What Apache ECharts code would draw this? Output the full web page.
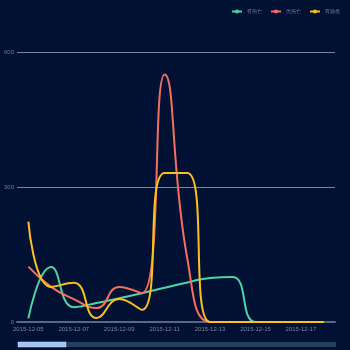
<!DOCTYPE html>
<html>
<head>
<meta charset="utf-8">
<style>
  html, body { margin: 0; padding: 0; background: #011134; }
  #chart { width: 350px; height: 350px; }
</style>
<script src="https://cdn.jsdelivr.net/npm/echarts@6/dist/echarts.min.js"></script>
</head>
<body>
<div id="chart"></div>
<script>
// Daily categories
const dates = [
  '2015-12-05', '2015-12-06', '2015-12-07', '2015-12-08', '2015-12-09',
  '2015-12-10', '2015-12-11', '2015-12-12', '2015-12-13', '2015-12-14',
  '2015-12-15', '2015-12-16', '2015-12-17', '2015-12-18'
];
// Series values
const withCasualties = [8, 122, 33, 42, 53, 64, 76, 88, 98, 100, 0, 0, 0, 0];
const noCasualties   = [123, 78, 51, 31, 78, 64, 550, 140, 0, 0, 0, 0, 0, 0];
const withHazards    = [223, 78, 87, 9, 51, 27, 331, 331, 0, 0, 0, 0, 0, 0];
const seriesNames = ['有伤亡', '无伤亡', '有隐患'];
const seriesColors = ['#4fd3a3', '#f4705e', '#fdc11f'];
// Value axis
const yMax = 600;
const yStep = 300;

const chart = echarts.init(document.getElementById('chart'));

const makeLine = (name, data, color) => ({
  name: name,
  type: 'line',
  smooth: true,
  showSymbol: false,
  symbol: 'circle',
  data: data,
  lineStyle: { width: 2, color: color },
  itemStyle: { color: color }
});

chart.setOption({
  backgroundColor: '#011134',
  animation: false,
  color: seriesColors,
  legend: {
    data: seriesNames,
    right: 5,
    top: 4,
    itemWidth: 10,
    itemHeight: 5,
    itemGap: 8,
    textStyle: { color: '#6f7c96', fontSize: 5 }
  },
  grid: { left: 17, right: 15, top: 52, bottom: 28 },
  xAxis: {
    type: 'category',
    data: dates,
    boundaryGap: true,
    axisLine: { lineStyle: { color: '#5d6785', width: 2 } },
    axisTick: { show: false },
    axisLabel: { color: '#7a8499', fontSize: 6, interval: 1, margin: 4 },
    splitLine: { show: false }
  },
  yAxis: {
    type: 'value',
    min: 0,
    max: yMax,
    interval: yStep,
    axisLine: { show: false },
    axisTick: { show: false },
    axisLabel: { color: '#6f7a90', fontSize: 6, margin: 3 },
    splitLine: { lineStyle: { color: '#7d859c', width: 1 } }
  },
  series: [
    makeLine(seriesNames[0], withCasualties, seriesColors[0]),
    makeLine(seriesNames[1], noCasualties, seriesColors[1]),
    makeLine(seriesNames[2], withHazards, seriesColors[2])
  ],
  graphic: [
    {
      type: 'rect',
      shape: { x: 18, y: 342, width: 318, height: 5 },
      style: { fill: '#263d5e' },
      silent: true
    },
    {
      type: 'rect',
      shape: { x: 18, y: 342, width: 48, height: 5 },
      style: { fill: '#9fc6f2', stroke: '#c7defa', lineWidth: 0.5 },
      silent: true
    }
  ]
});
</script>
</body>
</html>
